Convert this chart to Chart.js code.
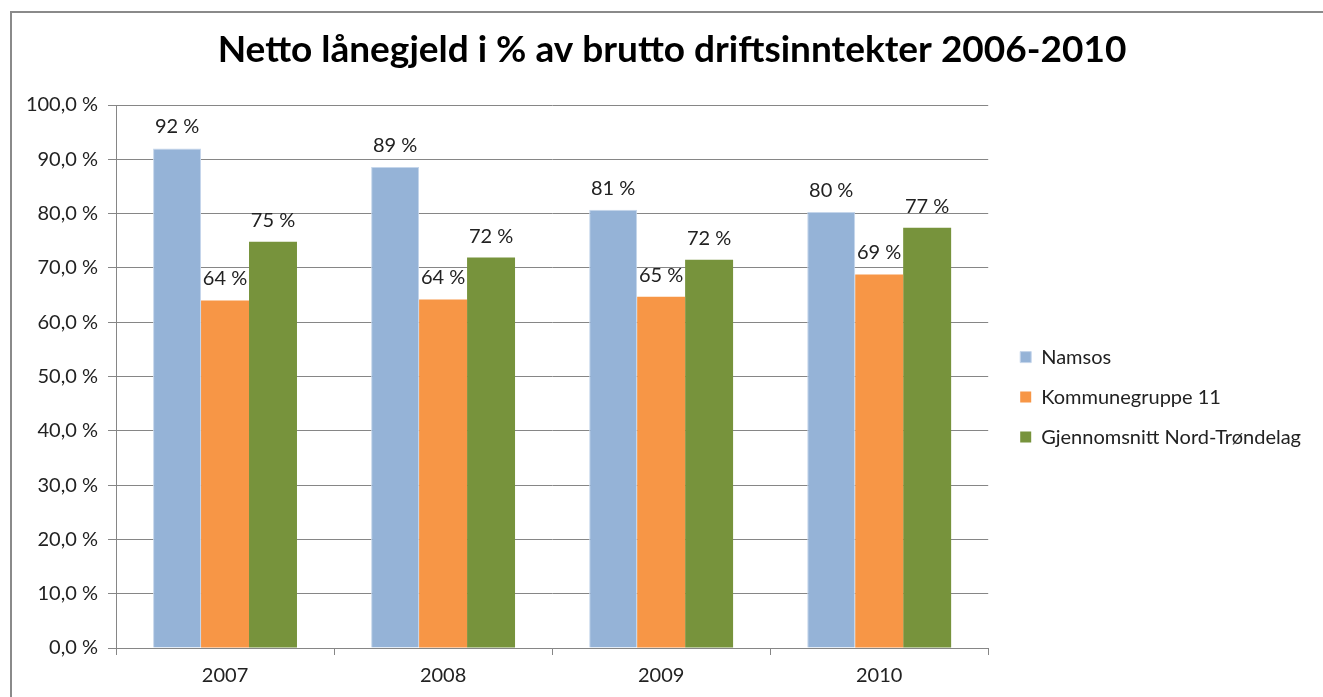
<!DOCTYPE html>
<html>
<head>
<meta charset="utf-8">
<script src="https://cdn.jsdelivr.net/npm/chart.js@4.4.1/dist/chart.umd.min.js"></script>
<style>
  html, body { margin: 0; padding: 0; background: #fff; overflow: hidden; }
  #wrap { position: absolute; left: 0; top: 0; width: 1323px; height: 697px; }
  #frame { position: absolute; left: 10px; top: 11px; width: 1400px; height: 800px;
           border-left: 2px solid #8a8a8a; border-top: 2px solid #8a8a8a; pointer-events: none; }
</style>
</head>
<body>
<div id="wrap"><canvas id="c" width="1323" height="697"></canvas></div>
<div id="frame"></div>
<script>
const categories = ['2007', '2008', '2009', '2010'];
const namsos = [92.0, 88.6, 80.7, 80.3];
const kommunegruppe11 = [64.0, 64.2, 64.7, 68.8];
const nordTrondelag = [74.8, 71.9, 71.5, 77.4];
const seriesNames = ['Namsos', 'Kommunegruppe 11', 'Gjennomsnitt Nord-Trøndelag'];
const titleText = 'Netto lånegjeld i % av brutto driftsinntekter 2006-2010';

const FONT = 'Lato, "Open Sans", sans-serif';
const FS = 20;
const colors = ['#95b3d7', '#f79646', '#77933c'];

const valueLabels = {
  id: 'valueLabels',
  afterDatasetsDraw(chart) {
    const ctx = chart.ctx;
    ctx.save();
    ctx.font = FS + 'px ' + FONT;
    ctx.fillStyle = '#222';
    ctx.textAlign = 'center';
    ctx.textBaseline = 'alphabetic';
    chart.data.datasets.forEach((ds, i) => {
      const meta = chart.getDatasetMeta(i);
      meta.data.forEach((bar, j) => {
        ctx.fillText(Math.round(ds.data[j]) + ' %', bar.x, bar.y - 15);
      });
    });
    ctx.restore();
  }
};

// widen the y-axis label clip region to the canvas edge so long tick labels are not cut
const widenYLabels = {
  id: 'widenYLabels',
  afterLayout(chart) { chart.scales.y.left = 0; }
};

function build() {
  new Chart(document.getElementById('c'), {
    type: 'bar',
    data: {
      labels: categories,
      datasets: [
        { label: seriesNames[0], data: namsos, backgroundColor: colors[0], borderColor: '#c5d6eb', borderWidth: 1 },
        { label: seriesNames[1], data: kommunegruppe11, backgroundColor: colors[1] },
        { label: seriesNames[2], data: nordTrondelag, backgroundColor: colors[2] }
      ]
    },
    options: {
      responsive: false,
      animation: false,
      layout: { padding: { left: 33, right: 12, top: 14, bottom: 0 } },
      datasets: { bar: { categoryPercentage: 0.66, barPercentage: 1.0 } },
      plugins: {
        title: {
          display: true,
          text: titleText,
          color: '#000',
          font: { family: FONT, size: 37, weight: 'bold' },
          padding: { top: 14, bottom: 32.6 }
        },
        legend: {
          position: 'right',
          maxWidth: 420,
          title: { display: true, text: ' ', font: { family: FONT, size: 16 }, padding: { top: 32, bottom: 32 } },
          labels: {
            color: '#222',
            font: { family: FONT, size: FS },
            boxWidth: 11,
            boxHeight: 11,
            padding: 20
          }
        },
        tooltip: { enabled: false }
      },
      scales: {
        x: {
          grid: { display: true, drawOnChartArea: false, drawTicks: true, tickLength: 7, color: '#868686', offset: true },
          border: { display: true, color: '#868686' },
          ticks: { color: '#222', font: { family: FONT, size: FS }, padding: 9 }
        },
        y: {
          min: 0, max: 100,
          afterFit(scale) { scale.width = 83; },
          grid: { color: '#868686', tickLength: 8 },
          border: { display: true, color: '#868686' },
          ticks: {
            stepSize: 10,
            color: '#222',
            font: { family: FONT, size: FS },
            padding: 10,
            callback: v => v.toFixed(1).replace('.', ',') + ' %'
          }
        },
        gap: {
          position: 'right',
          display: true,
          afterFit(scale) { scale.width = 12; },
          grid: { display: false, drawTicks: false },
          border: { display: false },
          ticks: { display: false }
        }
      }
    },
    plugins: [valueLabels, widenYLabels]
  });
}

if (document.fonts && document.fonts.load) {
  Promise.all([
    document.fonts.load('20px Lato'),
    document.fonts.load('bold 37px Lato')
  ]).then(build, build);
} else {
  build();
}
</script>
</body>
</html>
